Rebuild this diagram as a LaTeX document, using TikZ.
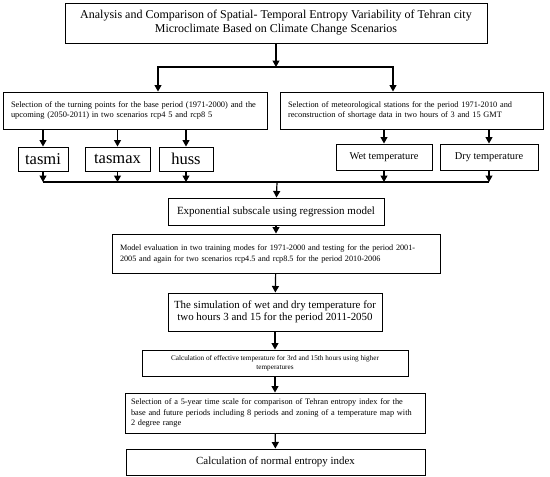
\documentclass[tikz,border=0pt]{standalone}
\usepackage{fontspec}
\setmainfont{Liberation Serif}
\usetikzlibrary{arrows.meta}
\usetikzlibrary{calc}

\tikzset{
  box/.style={draw, line width=1pt, inner sep=0pt, align=center},
  lbox/.style={draw, line width=1pt, inner xsep=8pt, inner ysep=0pt, align=left},
  arrow/.style={draw, line width=1.2pt, -{Triangle[length=6.5pt,width=7pt]}},
  link/.style={every edge/.style={arrow}},
}
\newcommand{\fsz}[2]{\fontsize{#1}{#2}\selectfont}

\begin{document}
\begin{tikzpicture}[x=1pt, y=-1pt]
  \useasboundingbox (0,0) rectangle (550,477);

  \node [box, minimum width=422, minimum height=40, font=\fsz{12}{14}] (title) at (276,23)
    {Analysis and Comparison of Spatial- Temporal Entropy Variability of Tehran city\\
     Microclimate Based on Climate Change Scenarios};

  \node [lbox, text width=248, minimum height=37, font=\fsz{8.4}{9.5}] (turning) at (135,110.5)
    {Selection of the turning points for the base period (1971-2000) and the\\
     upcoming (2050-2011) in two scenarios rcp4 5 and rcp8 5};
  \node [lbox, text width=247, minimum height=37, font=\fsz{8.3}{9.5}] (stations) at (411.5,110.5)
    {Selection of meteorological stations for the period 1971-2010 and\\
     reconstruction of shortage data in two hours of 3 and 15 GMT};

  \node [box, minimum width=50, minimum height=24, font=\fsz{16.5}{18}] (tasmi) at (43,159) {tasmi};
  \node [box, minimum width=65, minimum height=24, font=\fsz{16.5}{18}] (tasmax) at (117.5,159) {tasmax};
  \node [box, minimum width=54, minimum height=24, font=\fsz{16.5}{18}] (huss) at (186,159) {huss};
  \node [box, minimum width=96, minimum height=26, font=\fsz{10.4}{12}] (wet) at (384,157) {Wet temperature};
  \node [box, minimum width=98, minimum height=26, font=\fsz{10.4}{12}] (dry) at (489,157) {Dry temperature};

  \node [box, minimum width=216, minimum height=27, font=\fsz{11}{12.5}] (expo) at (276,211.5)
    {Exponential subscale using regression model};
  \node [lbox, text width=312, minimum height=39, font=\fsz{8.2}{11}] (evaluation) at (276,253.5)
    {Model evaluation in two training modes for 1971-2000 and testing for the period 2001-\\
     2005 and again for two scenarios rcp4.5 and rcp8.5 for the period 2010-2006};
  \node [box, minimum width=214, minimum height=38, font=\fsz{10.9}{12.5}] (simulation) at (275,312)
    {The simulation of wet and dry temperature for\\ two hours 3 and 15 for the period 2011-2050};
  \node [box, minimum width=266, minimum height=26, font=\fsz{7.2}{8.5}] (effective) at (275,363)
    {Calculation of effective temperature for 3rd and 15th hours using higher\\ temperatures};
  \node [lbox, inner xsep=6pt, text width=288, minimum height=40, font=\fsz{8.3}{10.8}] (timescale) at (275,413)
    {Selection of a 5-year time scale for comparison of Tehran entropy index for the\\
     base and future periods including 8 periods and zoning of a temperature map with\\
     2 degree range};
  \node [box, minimum width=299, minimum height=26, font=\fsz{10.9}{12.5}] (entropy) at (275.5,462)
    {Calculation of normal entropy index};

  \coordinate (split) at (276,67);
  \coordinate (bus) at (277,182);

  \draw [arrow] (title) -- (split);
  \draw [arrow] (split) -| ([xshift=23pt]turning.north);
  \draw [arrow] (split) -| ([xshift=-18.5pt]stations.north);

  \path [link]
    (turning.south -| tasmi)   edge (tasmi)
    (turning.south -| tasmax)  edge (tasmax)
    (turning.south -| huss)    edge (huss)
    (stations.south -| wet)    edge (wet)
    (stations.south -| dry)    edge (dry);

  \path [link]
    (tasmi)  edge (tasmi |- bus)
    (tasmax) edge (tasmax |- bus)
    (huss)   edge (huss |- bus)
    (wet)    edge (wet |- bus)
    (dry)    edge (dry |- bus);
  \draw [line width=1.2pt] (tasmi |- bus) -- (dry |- bus);

  \path [link]
    (bus)        edge (expo)
    (expo)       edge (evaluation)
    (evaluation) edge (simulation)
    (simulation) edge (effective)
    (effective)  edge (timescale)
    (timescale)  edge (entropy);

\end{tikzpicture}
\end{document}
